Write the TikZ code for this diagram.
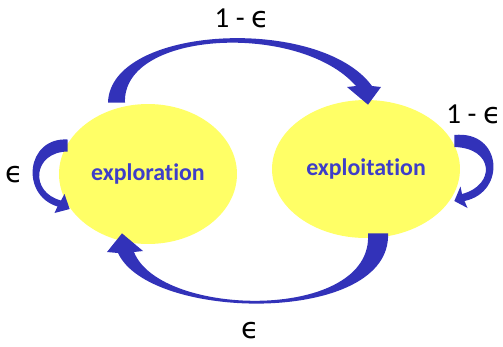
\documentclass[tikz,border=0pt]{standalone}
\usepackage{fontspec}
\setmainfont{Carlito}[Ligatures=NoCommon]
\newfontfamily\epsfont{DejaVu Sans}
\usetikzlibrary{shapes.geometric,calc}
\definecolor{arrowblue}{RGB}{50,50,185}
\definecolor{textblue}{RGB}{62,62,200}
\definecolor{stateyellow}{RGB}{255,255,102}
\newcommand{\eps}{{\epsfont ϵ}}

\begin{document}
\begin{tikzpicture}[x=0.02cm, y=-0.02cm,
    state/.style={ellipse, fill=stateyellow, inner sep=0pt, text=textblue, font=\fontsize{13.6}{16}\selectfont\bfseries},
    prob/.style={font=\fontsize{16.5}{19}\selectfont, text=black}]
    \useasboundingbox (0,0) rectangle (503,346);
    \node[state, minimum width=3.56cm, minimum height=2.8cm] (explore) at (148,174) {exploration};
    \node[state, minimum width=3.76cm, minimum height=2.76cm] (exploit) at (366,169) {exploitation};
    \coordinate (ts) at ($(explore.north)+(-31.5,-1)$);
    \coordinate (te) at ($(exploit.north)+(2,5)$);
    \coordinate (bs) at ($(exploit.south)+(12,-5)$);
    \coordinate (be) at ($(explore.south)+(-26,-11)$);
    \coordinate (ls) at ($(explore.west)+(9,-28.5)$);
    \coordinate (le) at ($(explore.west)+(11,35)$);
    \coordinate (rs) at ($(exploit.east)+(-6,-28)$);
    \coordinate (re) at ($(exploit.east)+(-6,32)$);
    \fill[arrowblue] ($(ts)+(-8.5,0)$) .. controls (110,25) and (320,15) .. (372,86) -- (381,87) -- (te)
        -- (347,87) -- (356,86) .. controls (300,22) and (122,30) .. ($(ts)+(8.5,0)$) -- cycle;
    \fill[arrowblue] ($(bs)+(10,0)$) .. controls (392,325) and (150,322) .. (118,253) -- (107,252) -- (be)
        -- (143,251) -- (134,252) .. controls (160,318) and (374,322) .. ($(bs)+(-10,0)$) -- cycle;
    \fill[arrowblue] ($(ls)+(0,-6)$) .. controls (26,137) and (20,195) .. (57.5,206.5) -- (54.5,213) -- (le)
        -- (64.5,194) -- (61,200.5) .. controls (29,192) and (33,152) .. ($(ls)+(0,6)$) -- cycle;
    \fill[arrowblue] ($(rs)+(0,-6)$) .. controls (502,130) and (507,192) .. (464.5,201) -- (467.5,208) -- (re)
        -- (460.5,186.5) -- (462,194) .. controls (496,185) and (494,148) .. ($(rs)+(0,6)$) -- cycle;
    \node[prob] (lblTop) at (242,18) {1 - \eps};
    \node[prob] (lblBottom) at (250,331) {\eps};
    \node[prob] (lblLeft) at (14,175) {\eps};
    \node[prob, anchor=east, inner sep=1pt] (lblRight) at (503,114) {1 - \eps};
\end{tikzpicture}
\end{document}
